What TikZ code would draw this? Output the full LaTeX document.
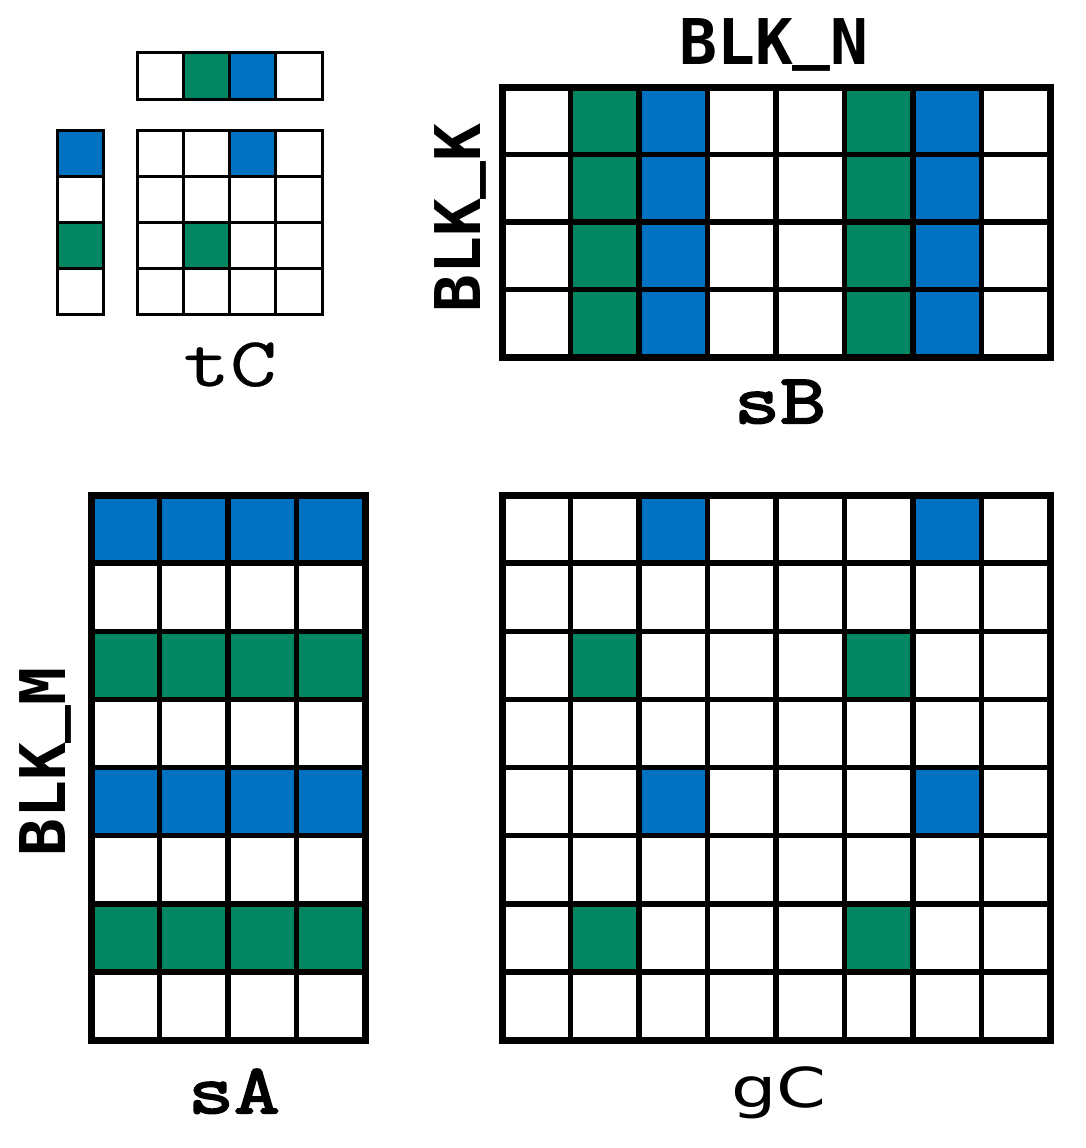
\documentclass[tikz,border=0pt]{standalone}
\usepackage{fontspec}
\newfontfamily\blkfont{DejaVu Sans Mono}
\newfontfamily\tcfont{Latin Modern Mono}[FakeStretch=1.3, FakeBold=0.4]
\newfontfamily\tilefont{Latin Modern Mono}[FakeStretch=1.27, FakeBold=3]
\newfontfamily\gcfont{DejaVu Sans}[FakeStretch=1.3]
\definecolor{tilegreen}{RGB}{2,134,98}
\definecolor{tileblue}{RGB}{0,112,192}
\newcommand{\blkname}[1]{BLK\raisebox{0.14em}{\_}#1}

\begin{document}
\begin{tikzpicture}[x=1pt, y=-1pt,
    bigcell/.style={draw=black, line width=5.5pt},
    bigframe/.style={draw=black, line width=7pt},
    smallcell/.style={draw=black, line width=3pt},
    dimlabel/.style={font=\blkfont\bfseries\fontsize{63}{63}\selectfont, inner sep=0pt},
    tilelabel/.style={font=\tilefont\fontsize{70}{70}\selectfont, inner sep=0pt}]

    \useasboundingbox (0,0) rectangle (1086,1148);

    % tC: thread tile (row slice, column slice, accumulator)
    \fill[tilegreen] (183.25,53) rectangle ++(46.25,46);
    \fill[tileblue]  (229.5,53) rectangle ++(46.25,46);
    \foreach \i in {0,...,3}
        \draw[smallcell] (137+\i*46.25,53) rectangle ++(46.25,46);

    \fill[tileblue]  (57,130) rectangle ++(46,46);
    \fill[tilegreen] (57,222) rectangle ++(46,46);
    \foreach \j in {0,...,3}
        \draw[smallcell] (57,130+\j*46) rectangle ++(46,46);

    \fill[tileblue]  (229.5,130) rectangle ++(46.25,46);
    \fill[tilegreen] (183.25,222) rectangle ++(46.25,46);
    \foreach \i in {0,...,3}
        \foreach \j in {0,...,3}
            \draw[smallcell] (137+\i*46.25,130+\j*46) rectangle ++(46.25,46);

    \node[font=\tcfont\fontsize{70}{70}\selectfont, inner sep=0pt, anchor=base] (tc_lbl) at (230,386) {tC};

    % sB: shared B tile
    \foreach \i in {1,5}
        \fill[tilegreen] (502+\i*68.5,87) rectangle ++(68.5,270);
    \foreach \i in {2,6}
        \fill[tileblue] (502+\i*68.5,87) rectangle ++(68.5,270);
    \foreach \i in {0,...,7}
        \foreach \j in {0,...,3}
            \draw[bigcell] (502+\i*68.5,87+\j*67.5) rectangle ++(68.5,67.5);
    \draw[bigframe] (502,87) rectangle (1050,357);

    \node[dimlabel, anchor=base] (blk_n) at (774,65) {\blkname{N}};
    \node[dimlabel, rotate=90, anchor=base] (blk_k) at (480,218) {\blkname{K}};
    \node[tilelabel, anchor=base] (sb_lbl) at (780,423) {sB};

    % sA: shared A tile
    \foreach \j in {0,4}
        \fill[tileblue] (91,495+\j*68.125) rectangle ++(274,68.125);
    \foreach \j in {2,6}
        \fill[tilegreen] (91,495+\j*68.125) rectangle ++(274,68.125);
    \foreach \i in {0,...,3}
        \foreach \j in {0,...,7}
            \draw[bigcell] (91+\i*68.5,495+\j*68.125) rectangle ++(68.5,68.125);
    \draw[bigframe] (91,495) rectangle (365,1040);

    \node[dimlabel, rotate=90, anchor=base] (blk_m) at (65,762) {\blkname{M}};
    \node[tilelabel, anchor=base] (sa_lbl) at (234,1113) {sA};

    % gC: global C tile
    \foreach \i in {2,6}
        \foreach \j in {0,4}
            \fill[tileblue] (502+\i*68.5,495+\j*68.125) rectangle ++(68.5,68.125);
    \foreach \i in {1,5}
        \foreach \j in {2,6}
            \fill[tilegreen] (502+\i*68.5,495+\j*68.125) rectangle ++(68.5,68.125);
    \foreach \i in {0,...,7}
        \foreach \j in {0,...,7}
            \draw[bigcell] (502+\i*68.5,495+\j*68.125) rectangle ++(68.5,68.125);
    \draw[bigframe] (502,495) rectangle (1050,1040);

    \node[font=\gcfont\fontsize{55}{55}\selectfont, inner sep=0pt, anchor=base] (gc_lbl) at (779,1107) {gC};

\end{tikzpicture}
\end{document}
